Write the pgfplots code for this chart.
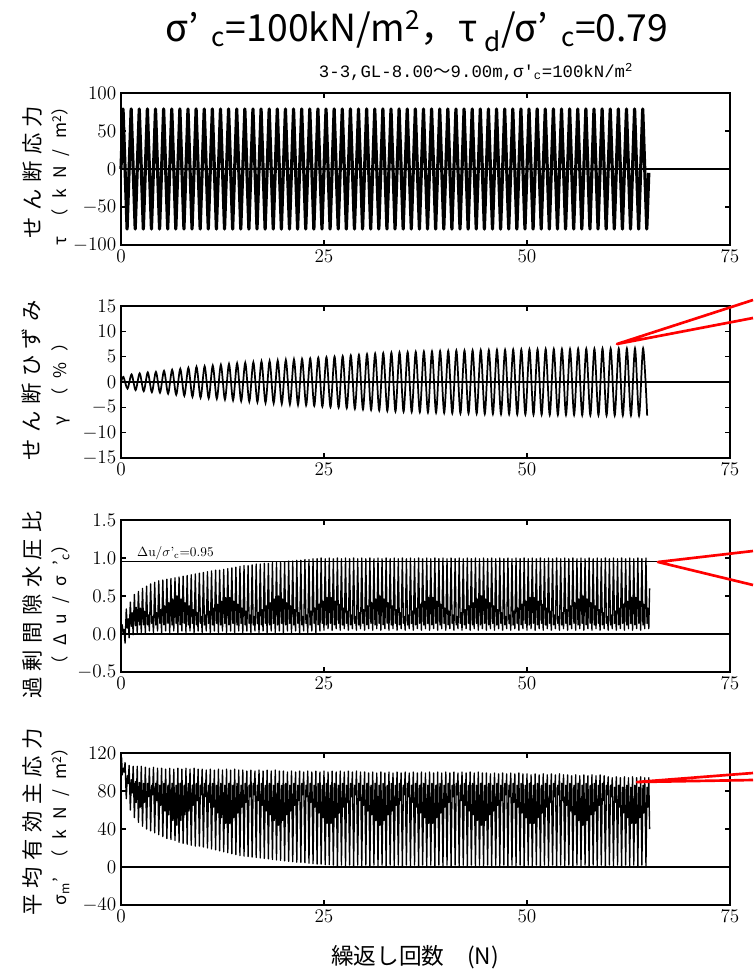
\documentclass[border=0pt]{standalone}
\usepackage{fontspec}
\usepackage{pgfplots}
\pgfplotsset{compat=1.18}
\newfontfamily\cjk{Noto Sans CJK JP}
\newfontfamily\mono{Liberation Mono}
\pgfplotsset{panel/.style={at={(90.75pt,#1)}, anchor=north west, scale only axis,
  width=456.75pt, height=114pt, xmin=0, xmax=75, xtick={0,25,50,75},
  tick align=inside, major tick length=4pt, axis line style={line width=1.2pt},
  tick style={line width=0.8pt, black}, tick label style={font=\fontsize{15}{15}\selectfont},
  clip=false, extra y ticks={0}, extra y tick labels={},
  extra y tick style={grid=major, major grid style={black, line width=0.9pt}, major tick length=0pt}}}
\begin{document}
\begin{tikzpicture}
\useasboundingbox (0,0) rectangle (564.75pt,-732.75pt);
% ---------- panel 1: shear stress ----------
\begin{axis}[panel=-69.75pt, ymin=-100, ymax=100, ytick={-100,-50,0,50,100}]
\addplot[black, line width=2.4pt, line join=round] coordinates {
(0,0)(0.25,79)(0.75,-79)(1.25,79)(1.75,-79)(2.25,79)(2.75,-79)(3.25,79)(3.75,-79)(4.25,79)(4.75,-79)
(5.25,79)(5.75,-79)(6.25,79)(6.75,-79)(7.25,79)(7.75,-79)(8.25,79)(8.75,-79)(9.25,79)(9.75,-79)
(10.25,79)(10.75,-79)(11.25,79)(11.75,-79)(12.25,79)(12.75,-79)(13.25,79)(13.75,-79)(14.25,79)(14.75,-79)
(15.25,79)(15.75,-79)(16.25,79)(16.75,-79)(17.25,79)(17.75,-79)(18.25,79)(18.75,-79)(19.25,79)(19.75,-79)
(20.25,79)(20.75,-79)(21.25,79)(21.75,-79)(22.25,79)(22.75,-79)(23.25,79)(23.75,-79)(24.25,79)(24.75,-79)
(25.25,79)(25.75,-79)(26.25,79)(26.75,-79)(27.25,79)(27.75,-79)(28.25,79)(28.75,-79)(29.25,79)(29.75,-79)
(30.25,79)(30.75,-79)(31.25,79)(31.75,-79)(32.25,79)(32.75,-79)(33.25,79)(33.75,-79)(34.25,79)(34.75,-79)
(35.25,79)(35.75,-79)(36.25,79)(36.75,-79)(37.25,79)(37.75,-79)(38.25,79)(38.75,-79)(39.25,79)(39.75,-79)
(40.25,79)(40.75,-79)(41.25,79)(41.75,-79)(42.25,79)(42.75,-79)(43.25,79)(43.75,-79)(44.25,79)(44.75,-79)
(45.25,79)(45.75,-79)(46.25,79)(46.75,-79)(47.25,79)(47.75,-79)(48.25,79)(48.75,-79)(49.25,79)(49.75,-79)
(50.25,79)(50.75,-79)(51.25,79)(51.75,-79)(52.25,79)(52.75,-79)(53.25,79)(53.75,-79)(54.25,79)(54.75,-79)
(55.25,79)(55.75,-79)(56.25,79)(56.75,-79)(57.25,79)(57.75,-79)(58.25,79)(58.75,-79)(59.25,79)(59.75,-79)
(60.25,79)(60.75,-79)(61.25,79)(61.75,-79)(62.25,79)(62.75,-79)(63.25,79)(63.75,-79)(64.25,79)(64.75,-79)
(65,-5)};
\end{axis}
% ---------- panel 2: shear strain ----------
\begin{axis}[panel=-229.5pt, ymin=-15, ymax=15, ytick={-15,-10,-5,0,5,10,15}]
\addplot[black, line width=1.3pt, smooth] coordinates {
(0,0)(0.3,1.0)(0.8,-1.3)(1.3,1.5)(1.8,-1.6)(2.3,1.7)(2.8,-1.8)(3.3,1.9)(3.8,-2.0)(4.3,2.0)(4.8,-2.1)
(5.3,2.2)(5.8,-2.3)(6.3,2.4)(6.8,-2.5)(7.3,2.6)(7.8,-2.7)(8.3,2.8)(8.8,-2.9)(9.3,3.0)(9.8,-3.1)
(10.3,3.1)(10.8,-3.2)(11.3,3.25)(11.8,-3.3)(12.3,3.4)(12.8,-3.45)(13.3,3.55)(13.8,-3.6)(14.3,3.7)(14.8,-3.75)
(15.3,3.8)(15.8,-3.85)(16.3,3.9)(16.8,-3.95)(17.3,4.05)(17.8,-4.1)(18.3,4.15)(18.8,-4.2)(19.3,4.25)(19.8,-4.3)
(20.3,4.35)(20.8,-4.4)(21.3,4.45)(21.8,-4.5)(22.3,4.55)(22.8,-4.6)(23.3,4.65)(23.8,-4.7)(24.3,4.8)(24.8,-4.85)
(25.3,4.9)(25.8,-4.95)(26.3,5.0)(26.8,-5.05)(27.3,5.1)(27.8,-5.15)(28.3,5.25)(28.8,-5.3)(29.3,5.35)(29.8,-5.4)
(30.3,5.5)(30.8,-5.5)(31.3,5.6)(31.8,-5.6)(32.3,5.7)(32.8,-5.7)(33.3,5.8)(33.8,-5.8)(34.3,5.85)(34.8,-5.85)
(35.3,5.9)(35.8,-5.9)(36.3,5.95)(36.8,-5.95)(37.3,6.0)(37.8,-6.0)(38.3,6.05)(38.8,-6.05)(39.3,6.1)(39.8,-6.1)
(40.3,6.15)(40.8,-6.15)(41.3,6.2)(41.8,-6.2)(42.3,6.2)(42.8,-6.2)(43.3,6.25)(43.8,-6.25)(44.3,6.3)(44.8,-6.3)
(45.3,6.3)(45.8,-6.3)(46.3,6.35)(46.8,-6.35)(47.3,6.35)(47.8,-6.35)(48.3,6.4)(48.8,-6.4)(49.3,6.4)(49.8,-6.4)
(50.3,6.45)(50.8,-6.45)(51.3,6.45)(51.8,-6.45)(52.3,6.5)(52.8,-6.5)(53.3,6.5)(53.8,-6.5)(54.3,6.5)(54.8,-6.5)
(55.3,6.5)(55.8,-6.5)(56.3,6.55)(56.8,-6.55)(57.3,6.55)(57.8,-6.55)(58.3,6.55)(58.8,-6.55)(59.3,6.6)(59.8,-6.6)
(60.3,6.6)(60.8,-6.6)(61.3,6.6)(61.8,-6.6)(62.3,6.6)(62.8,-6.6)(63.3,6.65)(63.8,-6.65)(64.3,6.65)(64.8,-6.65)};
\end{axis}
% ---------- panel 3: excess pore water pressure ratio ----------
\begin{axis}[panel=-390pt, ymin=-0.5, ymax=1.5, ytick={-0.5,0,0.5,1,1.5},
  yticklabel style={/pgf/number format/.cd, fixed, fixed zerofill, precision=1}]
\addplot[black, line width=0.7pt] coordinates {(0,0.95)(66,0.95)};
\addplot[black, line width=1.0pt, line join=round] coordinates {
(0,0)(0.15,0.12)(0.28,0.0)(0.38,0.06)
(0.5,-0.12)(0.65,0.33)(0.78,0.08)(0.88,0.2)
(1,-0.05)(1.15,0.42)(1.28,0.1)(1.38,0.28)
(1.5,-0.01)(1.65,0.52)(1.78,0.11)(1.88,0.35)
(2,0.01)(2.15,0.56)(2.28,0.12)(2.38,0.34)
(2.5,0.02)(2.65,0.6)(2.78,0.12)(2.88,0.30)
(3,0.02)(3.15,0.63)(3.28,0.12)(3.38,0.25)
(3.5,0.04)(3.65,0.66)(3.78,0.14)(3.88,0.23)
(4,0.02)(4.15,0.68)(4.28,0.12)(4.38,0.28)
(4.5,0.04)(4.65,0.70)(4.78,0.14)(4.88,0.32)
(5,0.02)(5.15,0.71)(5.28,0.12)(5.38,0.37)
(5.5,0.04)(5.65,0.72)(5.78,0.14)(5.88,0.41)
(6,0.02)(6.15,0.73)(6.28,0.12)(6.38,0.46)
(6.5,0.04)(6.65,0.74)(6.78,0.14)(6.88,0.50)
(7,0.02)(7.15,0.75)(7.28,0.12)(7.38,0.46)
(7.5,0.04)(7.65,0.76)(7.78,0.14)(7.88,0.41)
(8,0.02)(8.15,0.77)(8.28,0.12)(8.38,0.37)
(8.5,0.04)(8.65,0.78)(8.78,0.14)(8.88,0.32)
(9,0.02)(9.15,0.79)(9.28,0.12)(9.38,0.28)
(9.5,0.04)(9.65,0.80)(9.78,0.14)(9.88,0.23)
(10,0.02)(10.15,0.81)(10.28,0.12)(10.38,0.25)
(10.5,0.04)(10.65,0.82)(10.78,0.14)(10.88,0.30)
(11,0.02)(11.15,0.83)(11.28,0.12)(11.38,0.34)
(11.5,0.04)(11.65,0.84)(11.78,0.14)(11.88,0.39)
(12,0.02)(12.15,0.84)(12.28,0.12)(12.38,0.43)
(12.5,0.04)(12.65,0.85)(12.78,0.14)(12.88,0.48)
(13,0.02)(13.15,0.86)(13.28,0.12)(13.38,0.48)
(13.5,0.04)(13.65,0.87)(13.78,0.14)(13.88,0.43)
(14,0.02)(14.15,0.88)(14.28,0.12)(14.38,0.39)
(14.5,0.04)(14.65,0.89)(14.78,0.14)(14.88,0.34)
(15,0.02)(15.15,0.90)(15.28,0.12)(15.38,0.30)
(15.5,0.04)(15.65,0.90)(15.78,0.14)(15.88,0.25)
(16,0.02)(16.15,0.91)(16.28,0.12)(16.38,0.23)
(16.5,0.04)(16.65,0.92)(16.78,0.14)(16.88,0.28)
(17,0.02)(17.15,0.92)(17.28,0.12)(17.38,0.32)
(17.5,0.04)(17.65,0.93)(17.78,0.14)(17.88,0.37)
(18,0.02)(18.15,0.93)(18.28,0.12)(18.38,0.41)
(18.5,0.04)(18.65,0.94)(18.78,0.14)(18.88,0.46)
(19,0.02)(19.15,0.94)(19.28,0.12)(19.38,0.50)
(19.5,0.04)(19.65,0.95)(19.78,0.14)(19.88,0.46)
(20,0.02)(20.15,0.95)(20.28,0.12)(20.38,0.41)
(20.5,0.04)(20.65,0.96)(20.78,0.14)(20.88,0.37)
(21,0.02)(21.15,0.96)(21.28,0.12)(21.38,0.32)
(21.5,0.04)(21.65,0.97)(21.78,0.14)(21.88,0.28)
(22,0.02)(22.15,0.97)(22.28,0.12)(22.38,0.23)
(22.5,0.04)(22.65,0.98)(22.78,0.14)(22.88,0.25)
(23,0.02)(23.15,0.98)(23.28,0.12)(23.38,0.30)
(23.5,0.04)(23.65,0.99)(23.78,0.14)(23.88,0.34)
(24,0.02)(24.15,0.99)(24.28,0.12)(24.38,0.39)
(24.5,0.04)(24.65,1.0)(24.78,0.14)(24.88,0.43)
(25,0.05)(25.15,0.99)(25.28,0.12)(25.38,0.48)
(25.5,0.07)(25.65,1.0)(25.78,0.14)(25.88,0.48)
(26,0.05)(26.15,0.99)(26.28,0.12)(26.38,0.43)
(26.5,0.07)(26.65,1.0)(26.78,0.14)(26.88,0.39)
(27,0.05)(27.15,0.99)(27.28,0.12)(27.38,0.34)
(27.5,0.07)(27.65,1.0)(27.78,0.14)(27.88,0.30)
(28,0.05)(28.15,0.99)(28.28,0.12)(28.38,0.25)
(28.5,0.07)(28.65,1.0)(28.78,0.14)(28.88,0.23)
(29,0.05)(29.15,0.99)(29.28,0.12)(29.38,0.28)
(29.5,0.07)(29.65,1.0)(29.78,0.14)(29.88,0.32)
(30,0.05)(30.15,0.99)(30.28,0.12)(30.38,0.37)
(30.5,0.07)(30.65,1.0)(30.78,0.14)(30.88,0.41)
(31,0.05)(31.15,0.99)(31.28,0.12)(31.38,0.46)
(31.5,0.07)(31.65,1.0)(31.78,0.14)(31.88,0.50)
(32,0.05)(32.15,0.99)(32.28,0.12)(32.38,0.46)
(32.5,0.07)(32.65,1.0)(32.78,0.14)(32.88,0.41)
(33,0.05)(33.15,0.99)(33.28,0.12)(33.38,0.37)
(33.5,0.07)(33.65,1.0)(33.78,0.14)(33.88,0.32)
(34,0.05)(34.15,0.99)(34.28,0.12)(34.38,0.28)
(34.5,0.07)(34.65,1.0)(34.78,0.14)(34.88,0.23)
(35,0.05)(35.15,0.99)(35.28,0.12)(35.38,0.25)
(35.5,0.07)(35.65,1.0)(35.78,0.14)(35.88,0.30)
(36,0.05)(36.15,0.99)(36.28,0.12)(36.38,0.34)
(36.5,0.07)(36.65,1.0)(36.78,0.14)(36.88,0.39)
(37,0.05)(37.15,0.99)(37.28,0.12)(37.38,0.43)
(37.5,0.07)(37.65,1.0)(37.78,0.14)(37.88,0.48)
(38,0.05)(38.15,0.99)(38.28,0.12)(38.38,0.48)
(38.5,0.07)(38.65,1.0)(38.78,0.14)(38.88,0.43)
(39,0.05)(39.15,0.99)(39.28,0.12)(39.38,0.39)
(39.5,0.07)(39.65,1.0)(39.78,0.14)(39.88,0.34)
(40,0.05)(40.15,0.99)(40.28,0.12)(40.38,0.30)
(40.5,0.07)(40.65,1.0)(40.78,0.14)(40.88,0.25)
(41,0.05)(41.15,0.99)(41.28,0.12)(41.38,0.23)
(41.5,0.07)(41.65,1.0)(41.78,0.14)(41.88,0.28)
(42,0.05)(42.15,0.99)(42.28,0.12)(42.38,0.32)
(42.5,0.07)(42.65,1.0)(42.78,0.14)(42.88,0.37)
(43,0.05)(43.15,0.99)(43.28,0.12)(43.38,0.41)
(43.5,0.07)(43.65,1.0)(43.78,0.14)(43.88,0.46)
(44,0.05)(44.15,0.99)(44.28,0.12)(44.38,0.50)
(44.5,0.07)(44.65,1.0)(44.78,0.14)(44.88,0.46)
(45,0.05)(45.15,0.99)(45.28,0.12)(45.38,0.41)
(45.5,0.07)(45.65,1.0)(45.78,0.14)(45.88,0.37)
(46,0.05)(46.15,0.99)(46.28,0.12)(46.38,0.32)
(46.5,0.07)(46.65,1.0)(46.78,0.14)(46.88,0.28)
(47,0.05)(47.15,0.99)(47.28,0.12)(47.38,0.23)
(47.5,0.07)(47.65,1.0)(47.78,0.14)(47.88,0.25)
(48,0.05)(48.15,0.99)(48.28,0.12)(48.38,0.30)
(48.5,0.07)(48.65,1.0)(48.78,0.14)(48.88,0.34)
(49,0.05)(49.15,0.99)(49.28,0.12)(49.38,0.39)
(49.5,0.07)(49.65,1.0)(49.78,0.14)(49.88,0.43)
(50,0.05)(50.15,0.99)(50.28,0.12)(50.38,0.48)
(50.5,0.07)(50.65,1.0)(50.78,0.14)(50.88,0.48)
(51,0.05)(51.15,0.99)(51.28,0.12)(51.38,0.43)
(51.5,0.07)(51.65,1.0)(51.78,0.14)(51.88,0.39)
(52,0.05)(52.15,0.99)(52.28,0.12)(52.38,0.34)
(52.5,0.07)(52.65,1.0)(52.78,0.14)(52.88,0.30)
(53,0.05)(53.15,0.99)(53.28,0.12)(53.38,0.25)
(53.5,0.07)(53.65,1.0)(53.78,0.14)(53.88,0.23)
(54,0.05)(54.15,0.99)(54.28,0.12)(54.38,0.28)
(54.5,0.07)(54.65,1.0)(54.78,0.14)(54.88,0.32)
(55,0.05)(55.15,0.99)(55.28,0.12)(55.38,0.37)
(55.5,0.07)(55.65,1.0)(55.78,0.14)(55.88,0.41)
(56,0.05)(56.15,0.99)(56.28,0.12)(56.38,0.46)
(56.5,0.07)(56.65,1.0)(56.78,0.14)(56.88,0.50)
(57,0.05)(57.15,0.99)(57.28,0.12)(57.38,0.46)
(57.5,0.07)(57.65,1.0)(57.78,0.14)(57.88,0.41)
(58,0.05)(58.15,0.99)(58.28,0.12)(58.38,0.37)
(58.5,0.07)(58.65,1.0)(58.78,0.14)(58.88,0.32)
(59,0.05)(59.15,0.99)(59.28,0.12)(59.38,0.28)
(59.5,0.07)(59.65,1.0)(59.78,0.14)(59.88,0.23)
(60,0.05)(60.15,0.99)(60.28,0.12)(60.38,0.25)
(60.5,0.07)(60.65,1.0)(60.78,0.14)(60.88,0.30)
(61,0.05)(61.15,0.99)(61.28,0.12)(61.38,0.34)
(61.5,0.07)(61.65,1.0)(61.78,0.14)(61.88,0.39)
(62,0.05)(62.15,0.99)(62.28,0.12)(62.38,0.43)
(62.5,0.07)(62.65,1.0)(62.78,0.14)(62.88,0.48)
(63,0.05)(63.15,0.99)(63.28,0.12)(63.38,0.48)
(63.5,0.07)(63.65,1.0)(63.78,0.14)(63.88,0.43)
(64,0.05)(64.15,0.99)(64.28,0.12)(64.38,0.39)
(64.5,0.07)(64.65,1.0)(64.78,0.14)(64.88,0.34)
(65,0.07)(65.1,0.6)};
\node[anchor=south west, inner sep=1pt, font=\fontsize{10}{10}\selectfont] at (axis cs:1.8,0.96) {$\Delta$u/$\sigma$'\textsubscript{c}=0.95};
\end{axis}
% ---------- panel 4: mean effective principal stress ----------
\begin{axis}[panel=-564.75pt, ymin=-40, ymax=120, ytick={-40,0,40,80,120}]
\addplot[black, line width=1.0pt, line join=round] coordinates {
(0,100)(0.08,115)(0.15,97)(0.28,104)(0.38,100)
(0.5,110)(0.65,72)(0.78,96)(0.88,88)
(1,107)(1.15,60)(1.28,92)(1.38,78)
(1.5,106)(1.65,52)(1.78,90)(1.88,68)
(2,106)(2.15,47)(2.28,89)(2.38,63)
(2.5,106)(2.65,43)(2.78,88)(2.88,68)
(3,105)(3.15,40)(3.28,88)(3.38,74)
(3.5,104)(3.65,38)(3.78,86)(3.88,76)
(4,105)(4.15,36)(4.28,88)(4.38,70)
(4.5,104)(4.65,34)(4.78,86)(4.88,65)
(5,104)(5.15,32)(5.28,88)(5.38,59)
(5.5,103)(5.65,30)(5.78,86)(5.88,55)
(6,104)(6.15,29)(6.28,88)(6.38,49)
(6.5,103)(6.65,28)(6.78,86)(6.88,44)
(7,104)(7.15,26)(7.28,88)(7.38,49)
(7.5,103)(7.65,25)(7.78,86)(7.88,55)
(8,104)(8.15,24)(8.28,88)(8.38,59)
(8.5,103)(8.65,23)(8.78,86)(8.88,65)
(9,104)(9.15,22)(9.28,88)(9.38,70)
(9.5,103)(9.65,22)(9.78,86)(9.88,76)
(10,103)(10.15,21)(10.28,88)(10.38,74)
(10.5,102)(10.65,20)(10.78,86)(10.88,68)
(11,103)(11.15,19)(11.28,88)(11.38,63)
(11.5,102)(11.65,18)(11.78,86)(11.88,57)
(12,103)(12.15,17)(12.28,88)(12.38,52)
(12.5,102)(12.65,16)(12.78,86)(12.88,46)
(13,103)(13.15,15)(13.28,88)(13.38,46)
(13.5,102)(13.65,14)(13.78,86)(13.88,52)
(14,103)(14.15,13)(14.28,88)(14.38,57)
(14.5,102)(14.65,12)(14.78,86)(14.88,63)
(15,102)(15.15,11.5)(15.28,88)(15.38,68)
(15.5,101)(15.65,11)(15.78,86)(15.88,74)
(16,102)(16.15,10.5)(16.28,88)(16.38,76)
(16.5,101)(16.65,10)(16.78,86)(16.88,70)
(17,102)(17.15,9.5)(17.28,88)(17.38,65)
(17.5,101)(17.65,9)(17.78,86)(17.88,59)
(18,102)(18.15,8.5)(18.28,88)(18.38,55)
(18.5,101)(18.65,8)(18.78,86)(18.88,49)
(19,102)(19.15,7.5)(19.28,88)(19.38,44)
(19.5,101)(19.65,7)(19.78,86)(19.88,49)
(20,101)(20.15,6.5)(20.28,88)(20.38,55)
(20.5,100)(20.65,6)(20.78,86)(20.88,59)
(21,101)(21.15,5.5)(21.28,88)(21.38,65)
(21.5,100)(21.65,5)(21.78,86)(21.88,70)
(22,101)(22.15,5)(22.28,88)(22.38,76)
(22.5,100)(22.65,4.5)(22.78,86)(22.88,74)
(23,101)(23.15,4)(23.28,88)(23.38,68)
(23.5,100)(23.65,3.5)(23.78,86)(23.88,63)
(24,101)(24.15,3)(24.28,88)(24.38,57)
(24.5,100)(24.65,3)(24.78,86)(24.88,52)
(25,101)(25.15,2.5)(25.28,88)(25.38,46)
(25.5,100)(25.65,2.5)(25.78,86)(25.88,46)
(26,101)(26.15,2)(26.28,88)(26.38,52)
(26.5,100)(26.65,1)(26.78,86)(26.88,57)
(27,101)(27.15,2)(27.28,88)(27.38,63)
(27.5,100)(27.65,1)(27.78,86)(27.88,68)
(28,101)(28.15,2)(28.28,88)(28.38,74)
(28.5,100)(28.65,1)(28.78,86)(28.88,76)
(29,101)(29.15,2)(29.28,88)(29.38,70)
(29.5,100)(29.65,1)(29.78,86)(29.88,65)
(30,100)(30.15,2)(30.28,88)(30.38,59)
(30.5,99)(30.65,1)(30.78,86)(30.88,55)
(31,100)(31.15,2)(31.28,88)(31.38,49)
(31.5,99)(31.65,1)(31.78,86)(31.88,44)
(32,100)(32.15,2)(32.28,88)(32.38,49)
(32.5,99)(32.65,1)(32.78,86)(32.88,55)
(33,100)(33.15,2)(33.28,88)(33.38,59)
(33.5,99)(33.65,1)(33.78,86)(33.88,65)
(34,100)(34.15,2)(34.28,88)(34.38,70)
(34.5,99)(34.65,1)(34.78,86)(34.88,76)
(35,100)(35.15,2)(35.28,88)(35.38,74)
(35.5,99)(35.65,1)(35.78,86)(35.88,68)
(36,100)(36.15,2)(36.28,88)(36.38,63)
(36.5,99)(36.65,1)(36.78,86)(36.88,57)
(37,100)(37.15,2)(37.28,88)(37.38,52)
(37.5,99)(37.65,1)(37.78,86)(37.88,46)
(38,100)(38.15,2)(38.28,88)(38.38,46)
(38.5,99)(38.65,1)(38.78,86)(38.88,52)
(39,100)(39.15,2)(39.28,88)(39.38,57)
(39.5,99)(39.65,1)(39.78,86)(39.88,63)
(40,100)(40.15,2)(40.28,88)(40.38,68)
(40.5,99)(40.65,1)(40.78,86)(40.88,74)
(41,100)(41.15,2)(41.28,88)(41.38,76)
(41.5,99)(41.65,1)(41.78,86)(41.88,70)
(42,100)(42.15,2)(42.28,88)(42.38,65)
(42.5,99)(42.65,1)(42.78,86)(42.88,59)
(43,100)(43.15,2)(43.28,88)(43.38,55)
(43.5,99)(43.65,1)(43.78,86)(43.88,49)
(44,100)(44.15,2)(44.28,88)(44.38,44)
(44.5,99)(44.65,1)(44.78,86)(44.88,49)
(45,99)(45.15,2)(45.28,88)(45.38,55)
(45.5,98)(45.65,1)(45.78,86)(45.88,59)
(46,99)(46.15,2)(46.28,88)(46.38,65)
(46.5,98)(46.65,1)(46.78,86)(46.88,70)
(47,99)(47.15,2)(47.28,88)(47.38,76)
(47.5,98)(47.65,1)(47.78,86)(47.88,74)
(48,99)(48.15,2)(48.28,88)(48.38,68)
(48.5,98)(48.65,1)(48.78,86)(48.88,63)
(49,99)(49.15,2)(49.28,88)(49.38,57)
(49.5,98)(49.65,1)(49.78,86)(49.88,52)
(50,98)(50.15,2)(50.28,88)(50.38,46)
(50.5,97)(50.65,1)(50.78,86)(50.88,46)
(51,98)(51.15,2)(51.28,88)(51.38,52)
(51.5,97)(51.65,1)(51.78,86)(51.88,57)
(52,98)(52.15,2)(52.28,88)(52.38,63)
(52.5,97)(52.65,1)(52.78,86)(52.88,68)
(53,98)(53.15,2)(53.28,88)(53.38,74)
(53.5,97)(53.65,1)(53.78,86)(53.88,76)
(54,98)(54.15,2)(54.28,88)(54.38,70)
(54.5,97)(54.65,1)(54.78,86)(54.88,65)
(55,97)(55.15,2)(55.28,88)(55.38,59)
(55.5,96)(55.65,1)(55.78,86)(55.88,55)
(56,97)(56.15,2)(56.28,88)(56.38,49)
(56.5,96)(56.65,1)(56.78,86)(56.88,44)
(57,97)(57.15,2)(57.28,88)(57.38,49)
(57.5,96)(57.65,1)(57.78,86)(57.88,55)
(58,97)(58.15,2)(58.28,88)(58.38,59)
(58.5,96)(58.65,1)(58.78,86)(58.88,65)
(59,97)(59.15,2)(59.28,88)(59.38,70)
(59.5,96)(59.65,1)(59.78,86)(59.88,76)
(60,95)(60.15,2)(60.28,86)(60.38,74)
(60.5,94)(60.65,1)(60.78,84)(60.88,68)
(61,95)(61.15,2)(61.28,86)(61.38,63)
(61.5,94)(61.65,1)(61.78,84)(61.88,57)
(62,95)(62.15,2)(62.28,86)(62.38,52)
(62.5,94)(62.65,1)(62.78,84)(62.88,46)
(63,95)(63.15,2)(63.28,86)(63.38,46)
(63.5,94)(63.65,1)(63.78,84)(63.88,52)
(64,95)(64.15,2)(64.28,86)(64.38,57)
(64.5,94)(64.65,1)(64.78,84)(64.88,63)
(65,94)(65.1,40)};
\end{axis}
% ---------- titles and labels ----------
\node[font=\cjk\fontsize{28}{28}\selectfont] at (312.75pt,-23.25pt)
  {σ’\hspace{0.35em}\textsubscript{c}=100kN/m\textsuperscript{2}，τ\hspace{0.2em}\textsubscript{d}/σ’\hspace{0.35em}\textsubscript{c}=0.79};
\node[font=\mono\fontsize{13}{13}\selectfont] at (357pt,-54pt)
  {3-3,GL-8.00{\cjk ～}9.00m,σ'\textsubscript{c}=100kN/m\textsuperscript{2}};
\node[font=\cjk\fontsize{17}{17}\selectfont] at (311.25pt,-717.75pt) {繰返し回数\quad(N)};
% y labels, line 1
\begin{scope}[every node/.style={rotate=90, inner sep=0pt}]
\node[font=\cjk\fontsize{16}{16}\selectfont\addfontfeature{LetterSpace=30}] at (24pt,-129pt) {せん断応力};
\node[font=\cjk\fontsize{16}{16}\selectfont\addfontfeature{LetterSpace=30}] at (24pt,-285pt) {せん断ひずみ};
\node[font=\cjk\fontsize{16}{16}\selectfont\addfontfeature{LetterSpace=30}] at (24pt,-453.75pt) {過剰間隙水圧比};
\node[font=\cjk\fontsize{16}{16}\selectfont\addfontfeature{LetterSpace=30}] at (24pt,-616.5pt) {平均有効主応力};
% y labels, line 2
\node[font=\cjk\fontsize{13}{13}\selectfont\addfontfeature{LetterSpace=60}] at (45.75pt,-129pt) {τ（kN/m\textsuperscript{2}）};
\node[font=\cjk\fontsize{13}{13}\selectfont\addfontfeature{LetterSpace=60}] at (45.75pt,-285pt) {γ（\%）};
\node[font=\cjk\fontsize{13}{13}\selectfont\addfontfeature{LetterSpace=60}] at (45.75pt,-453.75pt) {（Δu/σ’\textsubscript{c}）};
\node[font=\cjk\fontsize{13}{13}\selectfont\addfontfeature{LetterSpace=60}] at (45.75pt,-616.5pt) {σ\textsubscript{m}’（kN/m\textsuperscript{2}）};
\end{scope}
% red call-out wedges
\draw[red, line width=2pt, line join=round] (564.75pt,-225pt) -- (462.75pt,-258pt) -- (564.75pt,-238.5pt);
\draw[red, line width=2pt, line join=round] (564.75pt,-413.25pt) -- (493.5pt,-421.5pt) -- (564.75pt,-438.75pt);
\draw[red, line width=2pt, line join=round] (564.75pt,-579.75pt) -- (477.75pt,-586.5pt) -- (564.75pt,-585pt);
\end{tikzpicture}
\end{document}
